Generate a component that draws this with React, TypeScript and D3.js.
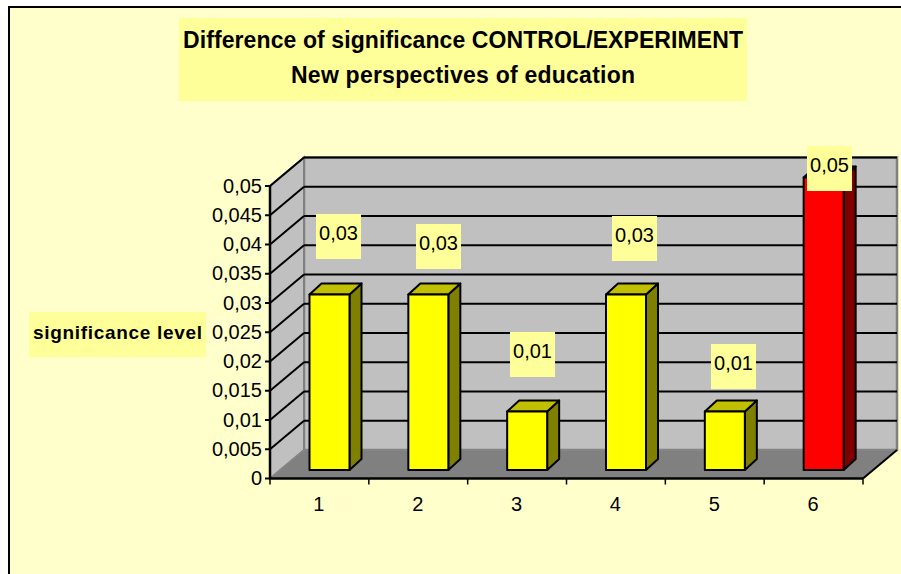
import React from "react";
import * as d3 from "d3";

const categories = ["1", "2", "3", "4", "5", "6"];
const values = [0.03, 0.03, 0.01, 0.03, 0.01, 0.05];
const dataLabels = ["0,03", "0,03", "0,01", "0,03", "0,01", "0,05"];
const yTicks = [0, 0.005, 0.01, 0.015, 0.02, 0.025, 0.03, 0.035, 0.04, 0.045, 0.05];
const yTickLabels = ["0", "0,005", "0,01", "0,015", "0,02", "0,025", "0,03", "0,035", "0,04", "0,045", "0,05"];
const barColors = ["#ffff00", "#ffff00", "#ffff00", "#ffff00", "#ffff00", "#ff0000"];
const barSideColors = ["#808000", "#808000", "#808000", "#808000", "#808000", "#800000"];
const barTopColors = ["#c0c000", "#c0c000", "#c0c000", "#c0c000", "#c0c000", "#c00000"];
const titleLines = ["Difference of significance CONTROL/EXPERIMENT", "New perspectives of education"];
const yTitle = "significance level";

const FONT = "'Liberation Sans', Arial, sans-serif";
const INK = "#000";

export default function App() {
  const y = d3.scaleLinear().domain([0, 0.05]).range([478.5, 186]);
  const x = d3.scaleBand().domain(categories).range([270, 863]);
  const dx = 34;
  const dy = -28.5;
  const barW = 40;
  const depthX = 12;
  const depthY = -11;
  const barOffsetX = 39.5;
  const barOffsetY = -8.5;
  const left = x.range()[0];
  const right = x.range()[1];
  const y0 = y(0);
  const yTop = y(0.05);
  const pts = (p: number[][]) => p.map((q) => q.join(",")).join(" ");
  const labelLefts = [316, 416, 510, 612, 711, 807];
  const labelTops = [214, 224, 332, 216, 344, 146];
  const titleWidths = [560, 344];

  return (
    <svg width={901} height={574} style={{ position: "absolute", left: 0, top: 0, display: "block" }}>
      <rect x={0} y={0} width={901} height={574} fill="#ffffff" />
      <rect x={9} y={7} width={920} height={600} fill="#ffffcc" stroke="#000" strokeWidth={2} />

      <rect x={179} y={18} width={568} height={83} fill="#ffff99" />
      {titleLines.map((t, i) => (
        <text key={t} x={463} y={48 + i * 35} textAnchor="middle" fontFamily={FONT} fontWeight="bold" fontSize={23} fill={INK} textLength={titleWidths[i]}>
          {t}
        </text>
      ))}

      <polygon points={pts([[left + dx, yTop + dy], [right + dx, yTop + dy], [right + dx, y0 + dy], [left + dx, y0 + dy]])} fill="#c0c0c0" stroke="#808080" strokeWidth={2.5} />
      <polygon points={pts([[left, yTop], [left + dx, yTop + dy], [left + dx, y0 + dy], [left, y0]])} fill="#c0c0c0" stroke="#808080" strokeWidth={2} />
      <polygon points={pts([[left, y0], [right, y0], [right + dx, y0 + dy], [left + dx, y0 + dy]])} fill="#808080" stroke="#8a8a8a" strokeWidth={1} />

      {yTicks.filter((t) => t > 0).map((t) => (
        <g key={t} stroke="#000" strokeWidth={2} fill="none">
          <line x1={left} y1={y(t)} x2={left + dx} y2={y(t) + dy} />
          <line x1={left + dx} y1={y(t) + dy} x2={right + dx} y2={y(t) + dy} />
        </g>
      ))}

      {categories.map((c, i) => {
        const bx = (x(c) as number) + barOffsetX;
        const by = y(values[i]) + barOffsetY;
        const bb = y0 + barOffsetY;
        return (
          <g key={c} stroke="#000" strokeWidth={2} strokeLinejoin="round">
            <polygon points={pts([[bx + barW, by], [bx + barW + depthX, by + depthY], [bx + barW + depthX, bb + depthY], [bx + barW, bb]])} fill={barSideColors[i]} />
            <polygon points={pts([[bx, by], [bx + depthX, by + depthY], [bx + barW + depthX, by + depthY], [bx + barW, by]])} fill={barTopColors[i]} />
            <rect x={bx} y={by} width={barW} height={bb - by} fill={barColors[i]} />
          </g>
        );
      })}

      <line x1={left} y1={y0} x2={right} y2={y0} stroke="#000" strokeWidth={2.5} />
      <line x1={left} y1={yTop} x2={left} y2={y0} stroke="#000" strokeWidth={2.5} />
      <line x1={right} y1={y0} x2={right + dx} y2={y0 + dy} stroke="#000" strokeWidth={2} />

      {yTicks.map((t, i) => (
        <g key={t}>
          <line x1={left - 5} y1={y(t)} x2={left} y2={y(t)} stroke="#000" strokeWidth={2} />
          <text x={left - 8} y={y(t) + 6.5} textAnchor="end" fontFamily={FONT} fontSize={20} fill={INK}>
            {yTickLabels[i]}
          </text>
        </g>
      ))}
      {[...categories.map((c) => x(c) as number), right].map((v) => (
        <line key={v} x1={v} y1={y0} x2={v} y2={y0 + 6} stroke="#000" strokeWidth={1.5} />
      ))}
      {categories.map((c) => (
        <text key={c} x={(x(c) as number) + x.bandwidth() / 2 - 0.5} y={511} textAnchor="middle" fontFamily={FONT} fontSize={20} fill={INK}>
          {c}
        </text>
      ))}

      <rect x={29} y={312} width={177} height={45} fill="#ffff99" />
      <text x={117.5} y={339} textAnchor="middle" fontFamily={FONT} fontWeight="bold" fontSize={19} fill={INK} textLength={169}>
        {yTitle}
      </text>

      {categories.map((c, i) => (
        <g key={c}>
          <rect x={labelLefts[i]} y={labelTops[i]} width={45} height={45} fill="#ffff99" />
          <text x={labelLefts[i] + 22.5} y={labelTops[i] + 26} textAnchor="middle" fontFamily={FONT} fontSize={20} fill={INK}>
            {dataLabels[i]}
          </text>
        </g>
      ))}
    </svg>
  );
}
